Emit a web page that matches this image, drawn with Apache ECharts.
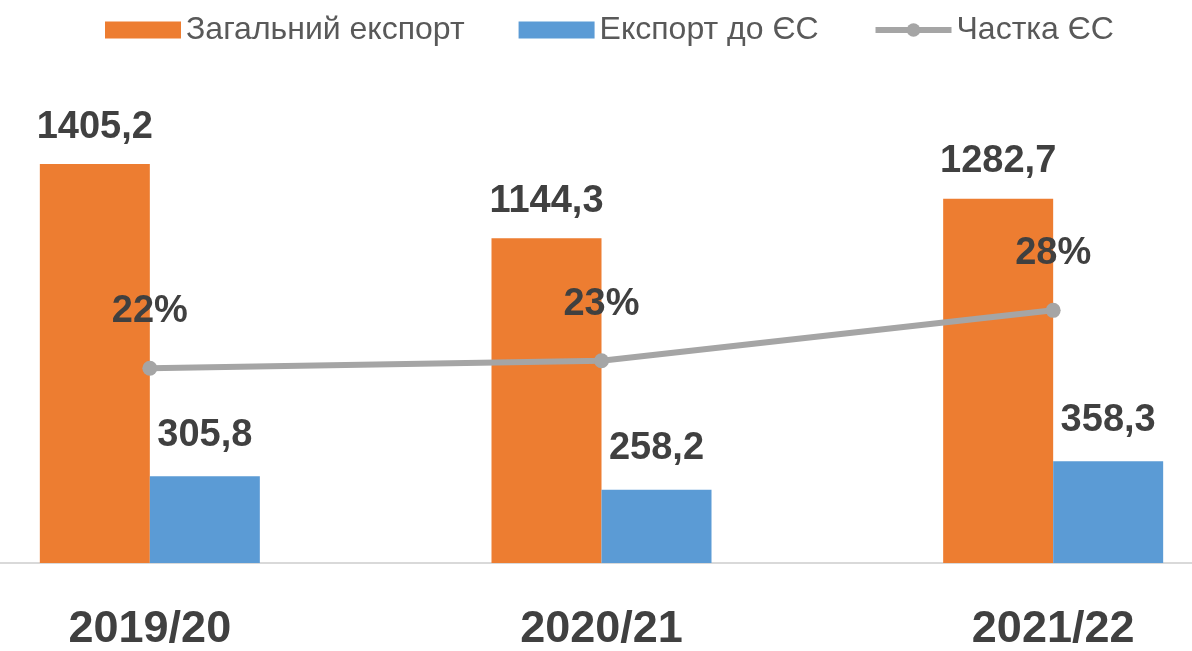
<!DOCTYPE html>
<html>
<head>
<meta charset="utf-8">
<script src="https://cdn.jsdelivr.net/npm/echarts@6/dist/echarts.min.js"></script>
<style>
html,body{margin:0;padding:0;background:#fff;}
#c{width:1192px;height:651px;}
</style>
</head>
<body>
<div id="c"></div>
<script>
const categories = ['2019/20', '2020/21', '2021/22'];
const totalExport = [1405.2, 1144.3, 1282.7];
const euExport = [305.8, 258.2, 358.3];
const euShare = [21.8, 22.6, 27.9];
const seriesNames = ['Загальний експорт', 'Експорт до ЄС', 'Частка ЄС'];

const fmt = v => String(v).replace('.', ',');
const FONT = "'Liberation Sans Narrow', 'Liberation Sans', 'DejaVu Sans Condensed', sans-serif";

const chart = echarts.init(document.getElementById('c'));
chart.setOption({
  backgroundColor: '#fff',
  textStyle: { fontFamily: FONT },
  legend: {
    top: 9,
    left: 100,
    itemWidth: 76,
    itemHeight: 17,
    itemGap: 54,
    textStyle: { color: '#595959', fontSize: 32, fontFamily: FONT },
    data: [
      { name: seriesNames[0], icon: 'rect' },
      { name: seriesNames[1], icon: 'rect' },
      { name: seriesNames[2], lineStyle: { width: 6, color: '#A5A5A5' }, itemStyle: { color: '#A5A5A5' } }
    ]
  },
  grid: { left: -76, width: 1355, top: 52, bottom: 88, containLabel: false, outerBoundsMode: 'none' },
  xAxis: {
    type: 'category',
    data: categories,
    axisLine: { lineStyle: { color: '#D9D9D9', width: 2 } },
    axisTick: { show: false },
    axisLabel: { color: '#404040', fontSize: 45, fontWeight: 'bold', margin: 44, fontFamily: FONT }
  },
  yAxis: [
    { type: 'value', min: 0, max: 1800, show: false, splitLine: { show: false } },
    { type: 'value', min: 1.3, max: 55.1, show: false, splitLine: { show: false } }
  ],
  series: [
    {
      name: seriesNames[0], type: 'bar', data: totalExport,
      barWidth: 110, barGap: '0%',
      itemStyle: { color: '#ED7D31' },
      label: { show: true, position: 'top', distance: 18, color: '#404040', fontSize: 38, fontWeight: 'bold', fontFamily: FONT, formatter: p => fmt(p.value) }
    },
    {
      name: seriesNames[1], type: 'bar', data: euExport,
      barWidth: 110, barGap: '0%',
      itemStyle: { color: '#5B9BD5' },
      label: { show: true, position: 'top', distance: 22, color: '#404040', fontSize: 38, fontWeight: 'bold', fontFamily: FONT, formatter: p => fmt(p.value) }
    },
    {
      name: seriesNames[2], type: 'line', yAxisIndex: 1, data: euShare,
      symbol: 'circle', symbolSize: 15,
      lineStyle: { color: '#A5A5A5', width: 6 },
      itemStyle: { color: '#A5A5A5' },
      label: { show: true, position: 'top', distance: 30, color: '#404040', fontSize: 38, fontWeight: 'bold', fontFamily: FONT, formatter: p => Math.round(p.value) + '%' },
      z: 5
    }
  ]
});
</script>
</body>
</html>
